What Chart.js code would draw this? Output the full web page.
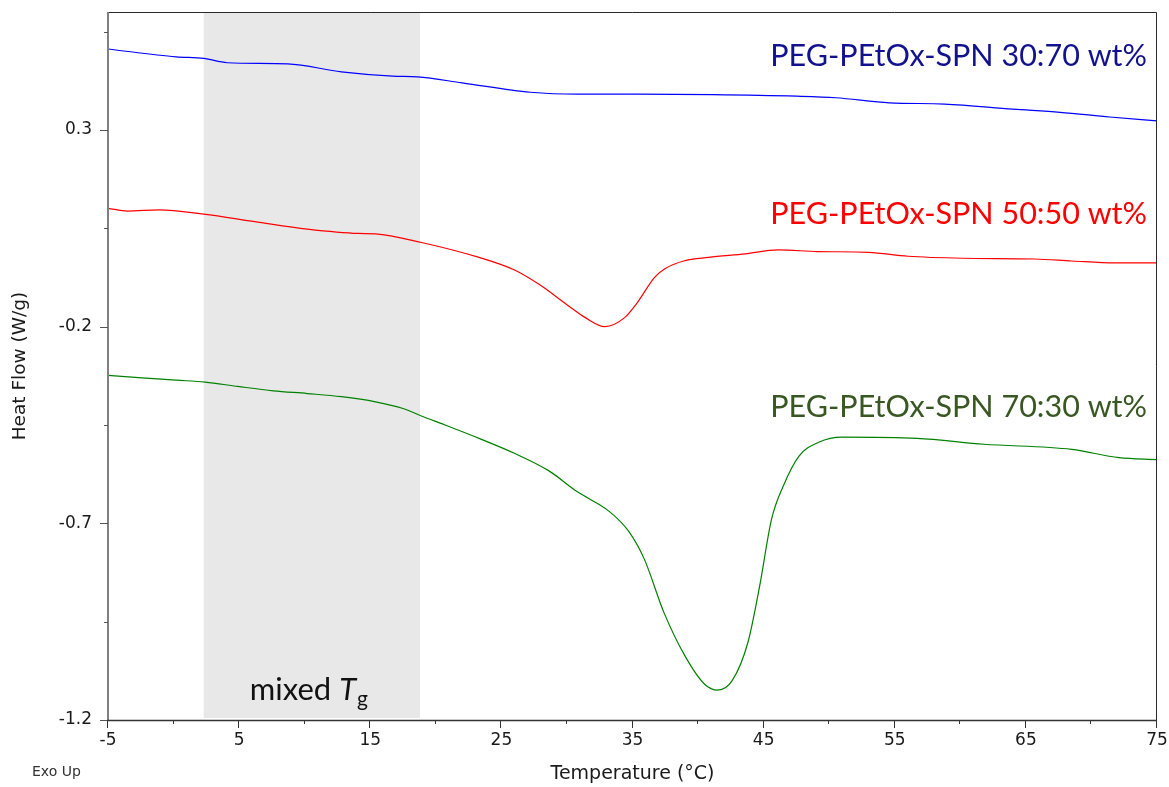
<!DOCTYPE html>
<html>
<head>
<meta charset="utf-8">
<script src="https://cdn.jsdelivr.net/npm/chart.js@4.4.1/dist/chart.umd.min.js"></script>
<style>
  html, body { margin: 0; padding: 0; background: #ffffff; }
  #wrap { width: 1169px; height: 787px; }
</style>
</head>
<body>
<div id="wrap"><canvas id="dsc" width="1169" height="787"></canvas></div>
<script>
// DSC heat-flow traces (Exo Up), temperature in °C, heat flow in W/g
const temp3070 = [-5, 0.2, 2.3, 4.1, 8.7, 12.8, 16.7, 18.6, 22.0, 27.2, 30.8, 35.3, 41.1, 47.5, 50.5, 54.6, 58.8, 64.0, 67.6, 71.4, 75];
const flow3070 = [0.506, 0.486, 0.482, 0.471, 0.468, 0.448, 0.437, 0.435, 0.420, 0.396, 0.391, 0.391, 0.390, 0.386, 0.382, 0.369, 0.366, 0.353, 0.345, 0.333, 0.323];

const temp5050 = [-5, -3.5, -1.1, 2.3, 6.2, 10.2, 14.1, 15.4, 18.9, 23.3, 26.0, 27.9, 30.0, 31.4, 32.9, 34.4, 35.3, 36.7, 37.5, 38.9, 40.8, 43.6, 46.1, 49.1, 53.0, 56.0, 60.2, 65.7, 68.5, 71.8, 75];
const flow5050 = [0.101, 0.094, 0.097, 0.086, 0.067, 0.048, 0.037, 0.036, 0.014, -0.024, -0.056, -0.093, -0.144, -0.177, -0.200, -0.177, -0.142, -0.074, -0.052, -0.033, -0.024, -0.015, -0.005, -0.009, -0.011, -0.021, -0.026, -0.028, -0.033, -0.038, -0.038];

const temp7030 = [-5, -2.4, 0.2, 2.4, 4.9, 7.6, 10.2, 12.8, 15.4, 17.5, 18.9, 20.7, 23.3, 26.0, 28.6, 30.8, 33.2, 34.7, 35.9, 37.4, 39.0, 40.5, 41.5, 42.6, 43.8, 44.7, 45.6, 46.5, 47.7, 49.2, 51.0, 56.7, 61.8, 68.5, 72.1, 75];
const flow7030 = [-0.324, -0.330, -0.336, -0.341, -0.352, -0.363, -0.370, -0.378, -0.391, -0.408, -0.427, -0.450, -0.484, -0.522, -0.566, -0.620, -0.669, -0.720, -0.791, -0.927, -1.037, -1.109, -1.124, -1.100, -1.003, -0.859, -0.690, -0.605, -0.529, -0.494, -0.481, -0.484, -0.499, -0.512, -0.533, -0.538];

const seriesNames = ['PEG-PEtOx-SPN 30:70 wt%', 'PEG-PEtOx-SPN 50:50 wt%', 'PEG-PEtOx-SPN 70:30 wt%'];

// axis ticks
const xMajorTicks = [-5, 5, 15, 25, 35, 45, 55, 65, 75];
const xMinorTicks = [0, 10, 20, 30, 40, 50, 60, 70];
const yMajorTicks = [-1.2, -0.7, -0.2, 0.3];
const yMinorTicks = [-0.95, -0.45, 0.05, 0.55];

// shaded glass-transition window
const tgRange = [2.3, 18.8];
const tgLabel = ['mixed ', 'T', 'g'];

const lineColors = ['#0000ff', '#ff0000', '#008000'];
const labelColors = ['#12128f', '#ff0000', '#385723'];

const toPoints = (xs, ys) => xs.map((t, i) => ({ x: t, y: ys[i] }));

// keep the plot frame fixed: no extra room for overhanging tick labels
const noOverhang = scale => {
  scale.paddingLeft = 0;
  scale.paddingRight = 0;
  scale.paddingTop = 0;
  scale.paddingBottom = 0;
};

const decor = {
  id: 'decor',
  beforeDatasetsDraw(chart) {
    const { ctx, chartArea: a, scales: { x } } = chart;
    const x0 = x.getPixelForValue(tgRange[0]);
    const x1 = x.getPixelForValue(tgRange[1]);
    ctx.save();
    ctx.fillStyle = '#e8e8e8';
    ctx.fillRect(x0, a.top, x1 - x0, a.bottom - a.top - 2);
    ctx.restore();
  },
  afterDatasetsDraw(chart) {
    const { ctx, chartArea: a, scales: { x, y } } = chart;
    ctx.save();

    // frame: top and right edges
    ctx.strokeStyle = '#2a2a2a';
    ctx.lineWidth = 1;
    ctx.beginPath();
    ctx.moveTo(a.left, a.top + 0.5);
    ctx.lineTo(a.right - 0.5, a.top + 0.5);
    ctx.lineTo(a.right - 0.5, a.bottom);
    ctx.stroke();

    // left axis
    ctx.strokeStyle = '#808080';
    ctx.lineWidth = 2;
    ctx.beginPath();
    ctx.moveTo(a.left, a.top);
    ctx.lineTo(a.left, a.bottom + 1);
    ctx.stroke();
    ctx.lineWidth = 1;
    const yTick = (v, len) => {
      const p = Math.round(y.getPixelForValue(v)) + 0.5;
      ctx.beginPath();
      ctx.moveTo(a.left - len, p);
      ctx.lineTo(a.left, p);
      ctx.stroke();
    };
    ctx.strokeStyle = '#555555';
    yMajorTicks.forEach(v => yTick(v, 8));
    yMinorTicks.forEach(v => yTick(v, 4));

    // bottom axis
    ctx.strokeStyle = '#333333';
    ctx.lineWidth = 1.5;
    ctx.beginPath();
    ctx.moveTo(a.left - 1, a.bottom + 0.5);
    ctx.lineTo(a.right, a.bottom + 0.5);
    ctx.stroke();
    ctx.lineWidth = 1;
    const xTick = (v, len) => {
      const p = Math.round(x.getPixelForValue(v)) - 0.5;
      ctx.beginPath();
      ctx.moveTo(p, a.bottom);
      ctx.lineTo(p, a.bottom + len);
      ctx.stroke();
    };
    xMajorTicks.forEach(v => xTick(v, 8));
    xMinorTicks.forEach(v => xTick(v, 4));

    // series labels
    ctx.font = '30.5px Lato, "Open Sans", sans-serif';
    ctx.textAlign = 'right';
    ctx.textBaseline = 'alphabetic';
    const labelBase = [a.top + 54, a.top + 212, a.top + 405];
    seriesNames.forEach((name, i) => {
      ctx.fillStyle = labelColors[i];
      ctx.fillText(name, a.right - 10, labelBase[i]);
    });

    // mixed Tg label inside the shaded window
    const bx0 = x.getPixelForValue(tgRange[0]);
    const bx1 = x.getPixelForValue(tgRange[1]);
    const fMain = '31px Lato, "Open Sans", sans-serif';
    const fItal = 'italic 31px Lato, "Open Sans", sans-serif';
    const fSub = '21px Lato, "Open Sans", sans-serif';
    ctx.textAlign = 'left';
    ctx.font = fMain; const w1 = ctx.measureText(tgLabel[0]).width;
    ctx.font = fItal; const w2 = ctx.measureText(tgLabel[1]).width;
    ctx.font = fSub; const w3 = ctx.measureText(tgLabel[2]).width;
    const total = w1 + w2 + 1 + w3;
    let tx = (bx0 + bx1) / 2 - total / 2 - 3;
    const base = a.bottom - 20;
    ctx.fillStyle = '#111111';
    ctx.font = fMain; ctx.fillText(tgLabel[0], tx, base); tx += w1;
    ctx.font = fItal; ctx.fillText(tgLabel[1], tx, base); tx += w2 + 1;
    ctx.font = fSub; ctx.fillText(tgLabel[2], tx, base + 6);

    // instrument convention note
    ctx.font = '14px "DejaVu Sans", sans-serif';
    ctx.fillStyle = '#333333';
    ctx.fillText('Exo Up', 32, 776);

    ctx.restore();
  }
};

Chart.defaults.font.family = '"DejaVu Sans", "Liberation Sans", sans-serif';
Chart.defaults.color = '#1a1a1a';

new Chart(document.getElementById('dsc'), {
  type: 'line',
  data: {
    datasets: [
      { label: seriesNames[0], data: toPoints(temp3070, flow3070), borderColor: lineColors[0] },
      { label: seriesNames[1], data: toPoints(temp5050, flow5050), borderColor: lineColors[1] },
      { label: seriesNames[2], data: toPoints(temp7030, flow7030), borderColor: lineColors[2] }
    ]
  },
  options: {
    responsive: false,
    animation: false,
    devicePixelRatio: 1,
    layout: { padding: { left: 0, right: 12, top: 12, bottom: 0 } },
    elements: {
      point: { radius: 0 },
      line: { borderWidth: 1.2, cubicInterpolationMode: 'monotone', fill: false }
    },
    plugins: { legend: { display: false }, tooltip: { enabled: false } },
    scales: {
      x: {
        type: 'linear',
        min: -5,
        max: 75,
        afterBuildTicks(scale) {
          scale.ticks = [...xMajorTicks, ...xMinorTicks].sort((p, q) => p - q).map(v => ({ value: v }));
        },
        afterFit(scale) { scale.height = 67; noOverhang(scale); },
        grid: { display: false, drawTicks: false },
        border: { display: false },
        ticks: {
          autoSkip: false,
          maxRotation: 0,
          padding: 10,
          font: { size: 17 },
          color: '#1a1a1a',
          callback: v => (xMajorTicks.includes(v) ? String(v) : '')
        },
        title: {
          display: true,
          text: 'Temperature (°C)',
          font: { size: 19 },
          color: '#1a1a1a',
          padding: { top: 0, bottom: 2 }
        }
      },
      y: {
        type: 'linear',
        min: -1.2,
        max: 0.6,
        afterBuildTicks(scale) {
          scale.ticks = [...yMajorTicks, ...yMinorTicks].sort((p, q) => p - q).map(v => ({ value: v }));
        },
        afterFit(scale) { scale.width = 108; noOverhang(scale); },
        grid: { display: false, drawTicks: false },
        border: { display: false },
        ticks: {
          autoSkip: false,
          padding: 16,
          font: { size: 17 },
          color: '#1a1a1a',
          callback: v => (yMajorTicks.some(t => Math.abs(t - v) < 1e-9) ? String(v) : '')
        },
        title: {
          display: true,
          text: 'Heat Flow (W/g)',
          font: { size: 18.5 },
          color: '#1a1a1a',
          padding: { top: 9, bottom: 0 }
        }
      }
    }
  },
  plugins: [decor]
});
</script>
</body>
</html>
